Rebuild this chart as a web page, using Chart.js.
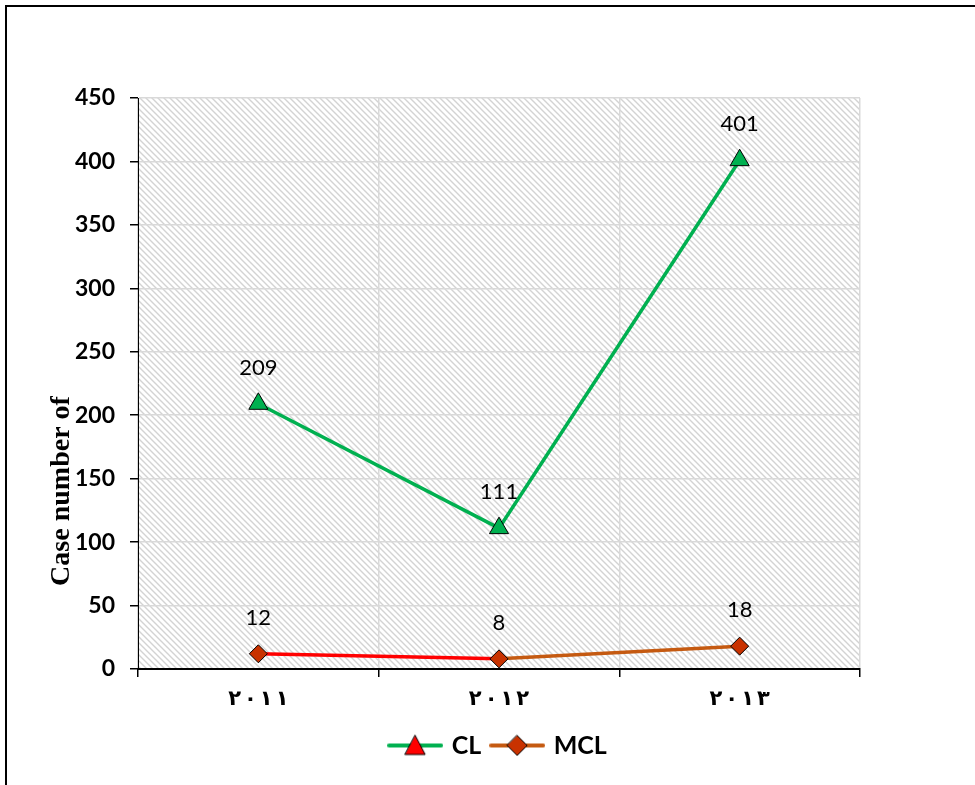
<!DOCTYPE html>
<html>
<head>
<meta charset="utf-8">
<script src="https://cdn.jsdelivr.net/npm/chart.js@4.4.0/dist/chart.umd.min.js"></script>
<style>
  html, body { margin: 0; padding: 0; background: #fff; }
  #wrap { width: 975px; height: 785px; }
</style>
</head>
<body>
<div id="wrap"><canvas id="chart" width="975" height="785"></canvas></div>
<script>
const YEARS = ["٢٠١١", "٢٠١٢", "٢٠١٣"];
const CL_VALUES = [209, 111, 401];
const MCL_VALUES = [12, 8, 18];
const Y_MIN = 0;
const Y_MAX = 450;
const Y_STEP = 50;
const SERIES_NAMES = ["CL", "MCL"];
const Y_TITLE = "Case number of";

const GREEN = "#00b050";
const MCL_LINE_COLORS = ["#ff0000", "#c55a11"];
const MCL_MARKER = "#c83200";

// diagonal hatch like the excel plot area fill
function makeHatch() {
  const c = document.createElement("canvas");
  c.width = 6;
  c.height = 6;
  const g = c.getContext("2d");
  g.strokeStyle = "#d3d3d3";
  g.lineWidth = 1.4;
  g.beginPath();
  g.moveTo(-1, -1); g.lineTo(7, 7);
  g.moveTo(-1, 5); g.lineTo(1, 7);
  g.moveTo(5, -1); g.lineTo(7, 1);
  g.stroke();
  return c;
}

function legendIcon(lineColor, drawMarker) {
  const c = document.createElement("canvas");
  c.width = 56;
  c.height = 26;
  const g = c.getContext("2d");
  g.strokeStyle = lineColor;
  g.lineWidth = 4;
  g.lineCap = "round";
  g.beginPath();
  g.moveTo(2, 13); g.lineTo(54, 13);
  g.stroke();
  g.lineWidth = 1;
  g.strokeStyle = "#000";
  drawMarker(g, 28, 13);
  return c;
}

const legendIcons = [
  legendIcon(GREEN, (g, x, y) => {
    g.fillStyle = "#ff0000";
    g.beginPath();
    g.moveTo(x, y - 10); g.lineTo(x + 10, y + 9); g.lineTo(x - 10, y + 9);
    g.closePath(); g.fill(); g.stroke();
  }),
  legendIcon(MCL_LINE_COLORS[1], (g, x, y) => {
    g.fillStyle = MCL_MARKER;
    g.beginPath();
    g.moveTo(x, y - 10); g.lineTo(x + 10, y); g.lineTo(x, y + 10); g.lineTo(x - 10, y);
    g.closePath(); g.fill(); g.stroke();
  }),
];

const framePlugin = {
  id: "frame",
  beforeDraw(chart) {
    const { ctx, chartArea: a } = chart;
    ctx.save();
    ctx.fillStyle = "#fff";
    ctx.fillRect(0, 0, chart.width, chart.height);
    ctx.fillStyle = ctx.createPattern(makeHatch(), "repeat");
    ctx.fillRect(a.left, a.top, a.right - a.left, a.bottom - a.top);
    ctx.strokeStyle = "#000";
    ctx.lineWidth = 2;
    ctx.beginPath();
    ctx.moveTo(6, chart.height); ctx.lineTo(6, 6); ctx.lineTo(chart.width, 6);
    ctx.stroke();
    ctx.restore();
  },
};

// draws a string glyph by glyph with extra gap, centred on cx
function spacedText(ctx, str, cx, cy, gap) {
  const chars = Array.from(str);
  const widths = chars.map((ch) => ctx.measureText(ch).width);
  const total = widths.reduce((s, w) => s + w, 0) + gap * (chars.length - 1);
  let x = cx - total / 2;
  ctx.textAlign = "left";
  chars.forEach((ch, i) => {
    ctx.fillText(ch, x, cy);
    x += widths[i] + gap;
  });
  ctx.textAlign = "center";
}

const labelsPlugin = {
  id: "extraText",
  afterDatasetsDraw(chart) {
    const { ctx, chartArea: a } = chart;
    const xs = chart.scales.x;
    ctx.save();
    // value labels above the points
    ctx.font = "22px Lato";
    ctx.fillStyle = "#000";
    ctx.textAlign = "center";
    ctx.textBaseline = "middle";
    chart.data.datasets.forEach((ds, di) => {
      chart.getDatasetMeta(di).data.forEach((pt, i) => {
        ctx.fillText(String(ds.data[i]), pt.x, pt.y - 36);
      });
    });
    // category labels, spaced out
    ctx.font = "bold 21px 'DejaVu Sans'";
    YEARS.forEach((lab, i) => {
      spacedText(ctx, lab, xs.getPixelForTick(i), a.bottom + 31, 3);
    });
    // y title
    ctx.translate(a.left - 76, a.bottom - 178);
    ctx.rotate(-Math.PI / 2);
    ctx.font = "bold 28px 'Liberation Serif'";
    ctx.fillText(Y_TITLE, 0, 0);
    ctx.restore();
  },
};

new Chart(document.getElementById("chart"), {
  type: "line",
  data: {
    labels: YEARS,
    datasets: [
      {
        label: SERIES_NAMES[0],
        data: CL_VALUES,
        borderColor: GREEN,
        borderWidth: 3.5,
        pointStyle: "triangle",
        pointRadius: 11,
        pointBackgroundColor: GREEN,
        pointBorderColor: "#000",
        pointBorderWidth: 1,
        tension: 0,
      },
      {
        label: SERIES_NAMES[1],
        data: MCL_VALUES,
        borderColor: MCL_LINE_COLORS[1],
        segment: { borderColor: (c) => MCL_LINE_COLORS[Math.min(c.p0DataIndex, 1)] },
        borderWidth: 3.5,
        pointStyle: "rectRot",
        pointRadius: 9,
        pointBackgroundColor: MCL_MARKER,
        pointBorderColor: "#000",
        pointBorderWidth: 1,
        tension: 0,
      },
    ],
  },
  options: {
    responsive: false,
    animation: false,
    layout: { padding: { left: 40, right: 115, top: 98, bottom: 17 } },
    plugins: {
      tooltip: { enabled: false },
      legend: {
        position: "bottom",
        fullSize: false,
        labels: {
          usePointStyle: true,
          pointStyleWidth: 48,
          padding: 12,
          color: "#000",
          font: { family: "Lato", size: 25, weight: "bold" },
          generateLabels: (chart) =>
            chart.data.datasets.map((ds, i) => ({
              text: ds.label,
              pointStyle: legendIcons[i],
              fillStyle: "transparent",
              strokeStyle: "transparent",
              lineWidth: 0,
              fontColor: "#000",
              hidden: false,
              datasetIndex: i,
            })),
        },
      },
    },
    scales: {
      x: {
        offset: true,
        grid: { offset: true, color: "#d9d9d9", lineWidth: 1.5, tickColor: "#000", tickLength: 8 },
        border: { color: "#000", width: 2 },
        ticks: { display: false },
        afterFit: (s) => { s.height = 52; },
      },
      y: {
        min: Y_MIN,
        max: Y_MAX,
        grid: { color: "#d9d9d9", lineWidth: 1.5, tickColor: "#000", tickLength: 8 },
        border: { color: "#000", width: 1 },
        ticks: {
          stepSize: Y_STEP,
          padding: 15,
          color: "#000",
          font: { family: "Lato", size: 23, weight: "bold" },
        },
        afterFit: (s) => { s.width = 98; },
      },
    },
  },
  plugins: [framePlugin, labelsPlugin],
});
</script>
</body>
</html>
